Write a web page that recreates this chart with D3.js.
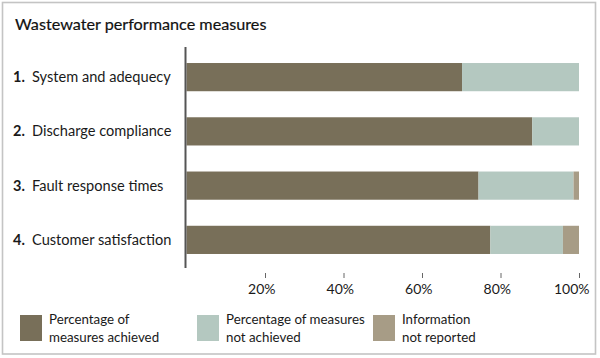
<!DOCTYPE html>
<html><head><meta charset="utf-8">
<script src="https://cdn.jsdelivr.net/npm/d3@7"></script>
<style>
html,body{margin:0;padding:0;background:#fff;}
svg{display:block;font-family:Lato, "Open Sans", sans-serif;}
</style></head>
<body>
<svg id="chart" width="600" height="358"></svg>
<script>
const categories = ["System and adequecy","Discharge compliance","Fault response times","Customer satisfaction"];
const numbers = ["1.","2.","3.","4."];
const achieved = [70.2, 88.1, 74.4, 77.4];
const notAchieved = [29.8, 11.9, 24.2, 18.5];
const notReported = [0, 0, 1.4, 4.1];
const seriesNames = ["Percentage of\nmeasures achieved","Percentage of measures\nnot achieved","Information\nnot reported"];
const seriesColors = ["#786f59","#b4c8c0","#a79c86"];
const tickValues = [20,40,60,80,100];

const svg = d3.select("#chart");
svg.append("rect").attr("x",2.5).attr("y",2.5).attr("width",593).attr("height",351.5)
  .attr("fill","none").attr("stroke","#c4c4c4").attr("stroke-width",1.6);

svg.append("text").attr("x",15).attr("y",29.5).attr("font-size",16.2).attr("fill","#111")
  .attr("stroke","#111").attr("stroke-width",0.2)
  .text("Wastewater performance measures");

const x = d3.scaleLinear().domain([0,100]).range([186.5,579]);
const y = d3.scaleBand().domain(categories).range([50,267]).paddingInner(0.48).paddingOuter(0.24);

const data = categories.map((c,i)=>({cat:c, vals:[achieved[i],notAchieved[i],notReported[i]]}));
const stack = [];
data.forEach(d=>{let acc=0; d.vals.forEach((v,k)=>{stack.push({cat:d.cat,k:k,x0:acc,x1:acc+v}); acc+=v;});});

svg.append("g").selectAll("rect").data(stack.filter(s=>s.x1>s.x0)).join("rect")
  .attr("x",d=>x(d.x0)).attr("width",d=>x(d.x1)-x(d.x0))
  .attr("y",d=>y(d.cat)).attr("height",y.bandwidth())
  .attr("fill",d=>seriesColors[d.k]);

// axis line
svg.append("line").attr("x1",185.5).attr("x2",185.5).attr("y1",47).attr("y2",268)
  .attr("stroke","#555").attr("stroke-width",2);

// category labels
const lab = svg.append("g").selectAll("g").data(categories).join("g");
lab.append("text").attr("x",13).attr("y",d=>y(d)+y.bandwidth()/2+5).attr("font-size",14.5)
  .attr("font-weight","bold").attr("fill","#1a1a1a").text((d,i)=>numbers[i]);
lab.append("text").attr("x",32).attr("y",d=>y(d)+y.bandwidth()/2+5).attr("font-size",14.6)
  .attr("fill","#1a1a1a").text(d=>d);

// x axis
const xa = svg.append("g").attr("transform","translate(0,273)")
  .call(d3.axisBottom(x).tickValues(tickValues).tickFormat(d=>d+"%").tickSize(5).tickPadding(6));
xa.select(".domain").remove();
xa.selectAll(".tick line").attr("stroke","#666");
xa.selectAll(".tick text").attr("font-size",14).attr("fill","#1a1a1a")
  .attr("font-family","Lato, 'Open Sans', sans-serif")
  .attr("text-anchor","end").attr("x",10);

// legend
const legX = [20,197,373];
const lg = svg.append("g").selectAll("g").data(seriesNames).join("g")
  .attr("transform",(d,i)=>`translate(${legX[i]},315)`);
lg.append("rect").attr("width",22).attr("height",26).attr("fill",(d,i)=>seriesColors[i]);
lg.each(function(d){
  const t = d3.select(this).append("text").attr("font-size",13.3).attr("fill","#1a1a1a");
  d.split("\n").forEach((line,j)=>t.append("tspan").attr("x",29).attr("y",8.5+j*18).text(line));
});
</script>
</body></html>
